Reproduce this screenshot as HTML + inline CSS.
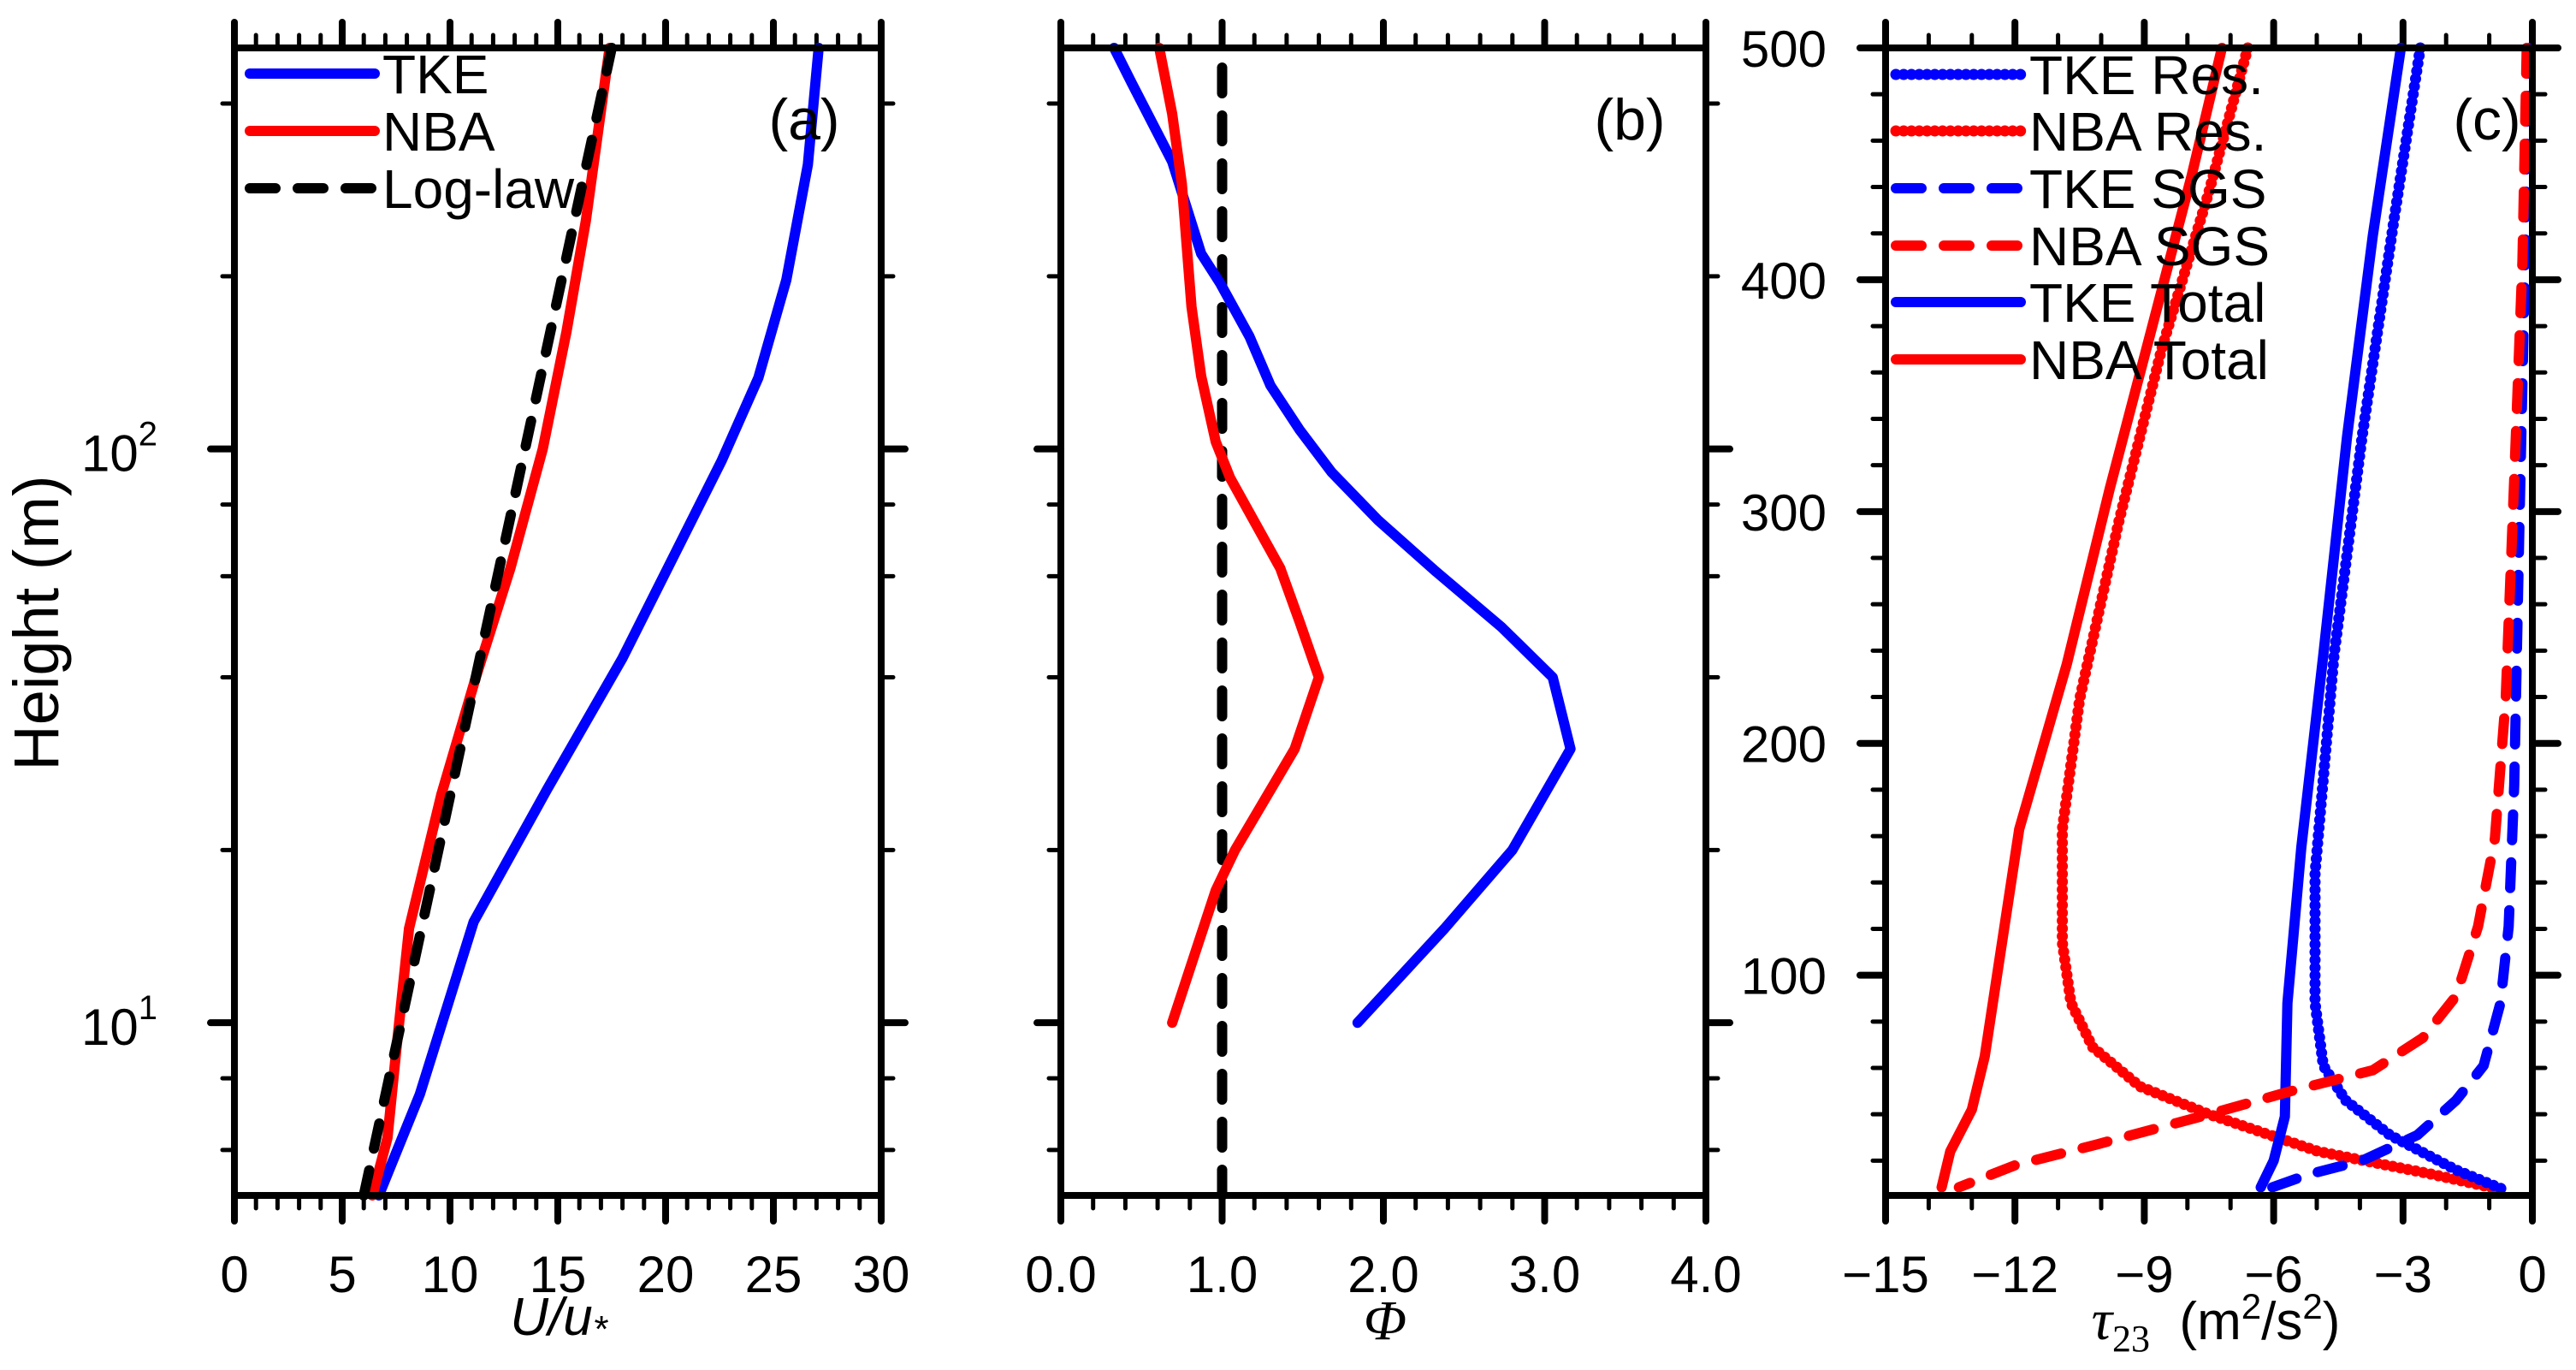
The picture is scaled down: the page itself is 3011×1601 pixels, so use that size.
<!DOCTYPE html>
<html><head><meta charset="utf-8"><style>
html,body{margin:0;padding:0;background:#fff;}
svg{display:block;font-family:"Liberation Sans",sans-serif;}
</style></head><body>
<svg id="chart" width="3011" height="1601" viewBox="0 0 3011 1601" xmlns="http://www.w3.org/2000/svg"></svg>
<script>
// ---- Panel (a) data ----
const aTkeH = [5, 7.5, 15.0, 25.5, 43.2, 64.2, 95.4, 133, 197, 313, 500];
const aTkeU = [6.7, 8.6, 11.1, 14.5, 18.0, 20.3, 22.6, 24.3, 25.6, 26.6, 27.1];
const aNbaH = [5, 6.3, 8.9, 14.6, 25, 40, 62, 100, 160, 250, 500];
const aNbaU = [6.4, 7.1, 7.5, 8.1, 9.6, 11.2, 12.8, 14.3, 15.4, 16.3, 17.4];
const aLogH = [5, 500];
const aLogU = [6.0, 17.5];
const aXTicks = [0, 5, 10, 15, 20, 25, 30];
// ---- Panel (b) data ----
const bTkeH = [500, 434, 317, 219, 194, 157, 129, 108, 91, 75, 61, 49, 40, 30, 20, 14.6, 10];
const bTkePhi = [0.33, 0.44, 0.69, 0.87, 0.99, 1.17, 1.30, 1.48, 1.68, 1.97, 2.33, 2.73, 3.05, 3.16, 2.80, 2.38, 1.84];
const bNbaH = [500, 384, 290, 227, 177, 134, 103, 89, 62, 50, 40, 30, 20, 17, 10];
const bNbaPhi = [0.61, 0.69, 0.75, 0.78, 0.81, 0.87, 0.96, 1.05, 1.36, 1.48, 1.60, 1.45, 1.08, 0.96, 0.69];
const bRefPhi = [1.0, 1.0];
const bRefH = [5, 500];
const bXTicks = ["0.0", "1.0", "2.0", "3.0", "4.0"];
// ---- Panel (c) data ----
const cNbaTotH = [500, 445, 381, 310, 234, 163, 65, 42, 24, 8.5];
const cNbaTotV = [-7.2, -7.9, -8.8, -9.8, -10.8, -11.9, -12.7, -13.0, -13.5, -13.7];
const cNbaResH = [500, 438, 370, 295, 219, 163, 114, 88, 69, 52, 40, 24, 14.4, 7];
const cNbaResV = [-6.6, -7.5, -8.6, -9.6, -10.5, -10.9, -10.9, -10.7, -10.2, -9.1, -7.5, -4.97, -2.4, -0.6];
const cTkeTotH = [500, 419, 332, 238, 155, 88, 39, 20, 8.5];
const cTkeTotV = [-3.05, -3.7, -4.3, -4.85, -5.36, -5.68, -5.74, -6.0, -6.3];
const cTkeResH = [500, 427, 332, 238, 144, 88, 61, 46, 31, 16, 7];
const cTkeResV = [-2.6, -3.2, -3.95, -4.6, -5.04, -5.04, -4.85, -4.33, -3.3, -1.77, -0.6];
const cTkeSgsH = [500, 408, 295, 182, 121, 88, 61, 46, 31, 20, 14, 7];
const cTkeSgsV = [-0.1, -0.17, -0.3, -0.42, -0.55, -0.74, -1.13, -1.77, -2.67, -3.95, -5.2, -6.26];
const cNbaSgsH = [500, 408, 314, 219, 159, 121, 91, 73, 59, 50, 40, 27, 18, 8.5];
const cNbaSgsV = [-0.13, -0.23, -0.42, -0.62, -0.87, -1.26, -1.77, -2.54, -3.7, -5.6, -7.5, -10.1, -12.0, -13.3];
const cXTicks = [-15, -12, -9, -6, -3, 0];
const cYTicks = [100, 200, 300, 400, 500];

const NS = "http://www.w3.org/2000/svg";
const svg = document.getElementById("chart");
const T = 56, B = 1397;
function el(tag, attrs, parent) {
  const e = document.createElementNS(NS, tag);
  for (const k in attrs) e.setAttribute(k, attrs[k]);
  (parent || svg).appendChild(e);
  return e;
}
function linX(L, R, d0, d1) { return v => L + (v - d0) / (d1 - d0) * (R - L); }
const logY = h => B - (Math.log10(h) - Math.log10(5)) / 2 * (B - T);
const linY = h => B - (h - 5) / 495 * (B - T);

function frame(g, L, R, name) {
  const r = el("rect", {x: L, y: T, width: R - L, height: B - T, fill: "none", stroke: "#000", "stroke-width": 8}, g);
  
  
}
function tick(g, x1, y1, x2, y2, w) {
  el("line", {x1, y1, x2, y2, stroke: "#000", "stroke-width": w, "stroke-linecap": "round"}, g);
}
function xTicks(g, sx, d0, d1, minorStep, majors) {
  for (let v = d0; v <= d1 + 1e-9; v += minorStep) {
    const isMaj = majors.some(m => Math.abs(m - v) < 1e-6);
    const len = isMaj ? 30 : 15, x = sx(v);
    tick(g, x, B, x, B + len, isMaj ? 8 : 5);
    tick(g, x, T, x, T - len, isMaj ? 8 : 5);
  }
}
function yLogTicks(g, L, R) {
  [6, 8, 20, 40, 60, 80, 200, 400].forEach(h => { const y = logY(h); tick(g, L, y, L - 14, y, 5); tick(g, R, y, R + 14, y, 5); });
  [10, 100].forEach(h => { const y = logY(h); tick(g, L, y, L - 28, y, 8); tick(g, R, y, R + 28, y, 8); });
}
function series(g, xs, ys, sx, sy, color, style, name) {
  const pts = xs.map((v, i) => sx(v).toFixed(1) + "," + sy(ys[i]).toFixed(1)).join(" ");
  const a = {points: pts, fill: "none", stroke: color, "stroke-width": 12, "stroke-linejoin": "round", "stroke-linecap": "round"};
  if (style === "dash") a["stroke-dasharray"] = "30 26";
  if (style === "dot") { a["stroke-dasharray"] = "0.1 9"; a["stroke-width"] = 13; }
  const p = el("polyline", a, g);
  
  
}
function text(g, x, y, str, size, anchor, name, extra) {
  const t = el("text", Object.assign({x, y, "font-size": size, "text-anchor": anchor || "middle", fill: "#000"}, extra || {}), g);
  t.textContent = str;
  
  
  return t;
}
function legend(g, x0, x1, tx, y, color, style, label, name) {
  const a = {x1: x0, y1: y, x2: x1, y2: y, stroke: color, "stroke-width": 12, "stroke-linecap": "round"};
  if (style === "dash") a["stroke-dasharray"] = "30 26";
  if (style === "dot") { a["stroke-dasharray"] = "0.1 9"; a["stroke-width"] = 13; }
  const l = el("line", a, g);
  
  
  text(g, tx, y + 23, label, 64, "start", name + '-label');
}

// ===== Panel (a) =====
const gA = el("g", {});


const aL = 274, aR = 1030, sxA = linX(aL, aR, 0, 30);
xTicks(gA, sxA, 0, 30, 1, aXTicks);
yLogTicks(gA, aL, aR);
series(gA, aTkeU, aTkeH, sxA, logY, "#0000ff", "solid", "tke-velocity-line");
series(gA, aNbaU, aNbaH, sxA, logY, "#ff0000", "solid", "nba-velocity-line");
series(gA, aLogU, aLogH, sxA, logY, "#000", "dash", "log-law-line");
frame(gA, aL, aR, "panel-a-frame");
aXTicks.forEach(v => text(gA, sxA(v), 1510, String(v), 60, "middle", "x-tick-label-a"));
[[10, "1"], [100, "2"]].forEach(([h, e]) => {
  const t = text(gA, 184, logY(h) + 26, "10", 60, "end", "y-tick-label-a");
  const s = el("tspan", {dy: -30, "font-size": 40}, t); s.textContent = e;
});
text(gA, 0, 0, "Height (m)", 74, "middle", "y-axis-title", {transform: "translate(68,728) rotate(-90)"});
const ua = text(gA, 653, 1560, "", 62, "middle", "x-axis-title-a", {"font-style": "italic"});
ua.textContent = "U/u";
const ustar = el("tspan", {dy: 8, "font-size": 44}, ua); ustar.textContent = "*";
text(gA, 940, 163, "(a)", 68, "middle", "panel-a-label");
legend(gA, 292, 438, 447, 86, "#0000ff", "solid", "TKE", "legend-tke");
legend(gA, 292, 438, 447, 153, "#ff0000", "solid", "NBA", "legend-nba");
legend(gA, 292, 438, 447, 220, "#000", "dash", "Log-law", "legend-log-law");

// ===== Panel (b) =====
const gB = el("g", {});


const bL = 1240, bR = 1994, sxB = linX(bL, bR, 0, 4);
xTicks(gB, sxB, 0, 4, 0.2, [0, 1, 2, 3, 4]);
yLogTicks(gB, bL, bR);
series(gB, bRefPhi, bRefH, sxB, logY, "#000", "dash", "phi-reference-line");
series(gB, bTkePhi, bTkeH, sxB, logY, "#0000ff", "solid", "tke-phi-line");
series(gB, bNbaPhi, bNbaH, sxB, logY, "#ff0000", "solid", "nba-phi-line");
frame(gB, bL, bR, "panel-b-frame");
bXTicks.forEach((s, i) => text(gB, sxB(i), 1510, s, 60, "middle", "x-tick-label-b"));
text(gB, 1619, 1565, "Φ", 66, "middle", "x-axis-title-b", {"font-style": "italic", "font-family": "Liberation Serif, serif"});
text(gB, 1905, 163, "(b)", 68, "middle", "panel-b-label");

// ===== Panel (c) =====
const gC = el("g", {});


const cL = 2204, cR = 2960, sxC = linX(cL, cR, -15, 0);
xTicks(gC, sxC, -15, 0, 1, cXTicks);
for (let h = 20; h <= 500; h += 20) {
  const maj = h % 100 === 0, y = linY(h), len = maj ? 30 : 15;
  tick(gC, cL, y, cL - len, y, maj ? 8 : 5);
  tick(gC, cR, y, cR + len, y, maj ? 8 : 5);
}
series(gC, cNbaTotV, cNbaTotH, sxC, linY, "#ff0000", "solid", "nba-total-line");
series(gC, cNbaResV, cNbaResH, sxC, linY, "#ff0000", "dot", "nba-res-line");
series(gC, cTkeTotV, cTkeTotH, sxC, linY, "#0000ff", "solid", "tke-total-line");
series(gC, cTkeResV, cTkeResH, sxC, linY, "#0000ff", "dot", "tke-res-line");
series(gC, cTkeSgsV, cTkeSgsH, sxC, linY, "#0000ff", "dash", "tke-sgs-line");
series(gC, cNbaSgsV, cNbaSgsH, sxC, linY, "#ff0000", "dash", "nba-sgs-line");
frame(gC, cL, cR, "panel-c-frame");
cXTicks.forEach(v => text(gC, sxC(v), 1510, v < 0 ? "\u2212" + Math.abs(v) : String(v), 60, "middle", "x-tick-label-c"));
cYTicks.forEach(v => text(gC, 2135, linY(v) + 22, String(v), 60, "end", "y-tick-label-c"));
const tc = text(gC, 2590, 1565, "", 62, "middle", "x-axis-title-c");
const tau = el("tspan", {"font-style": "italic", "font-family": "Liberation Serif, serif", "font-size": 68}, tc); tau.textContent = "τ";
const sub = el("tspan", {dy: 14, "font-size": 44, "font-family": "Liberation Serif, serif"}, tc); sub.textContent = "23";
const un1 = el("tspan", {dy: -14}, tc); un1.textContent = "\u00a0\u00a0(m";
const sup1 = el("tspan", {dy: -24, "font-size": 42}, tc); sup1.textContent = "2";
const un2 = el("tspan", {dy: 24}, tc); un2.textContent = "/s";
const sup2 = el("tspan", {dy: -24, "font-size": 42}, tc); sup2.textContent = "2";
const un3 = el("tspan", {dy: 24}, tc); un3.textContent = ")";
text(gC, 2907, 163, "(c)", 68, "middle", "panel-c-label");
legend(gC, 2216, 2362, 2372, 87, "#0000ff", "dot", "TKE Res.", "legend-tke-res");
legend(gC, 2216, 2362, 2372, 153, "#ff0000", "dot", "NBA Res.", "legend-nba-res");
legend(gC, 2216, 2362, 2372, 220, "#0000ff", "dash", "TKE SGS", "legend-tke-sgs");
legend(gC, 2216, 2362, 2372, 287, "#ff0000", "dash", "NBA SGS", "legend-nba-sgs");
legend(gC, 2216, 2362, 2372, 353, "#0000ff", "solid", "TKE Total", "legend-tke-total");
legend(gC, 2216, 2362, 2372, 420, "#ff0000", "solid", "NBA Total", "legend-nba-total");
</script>
</body></html>
